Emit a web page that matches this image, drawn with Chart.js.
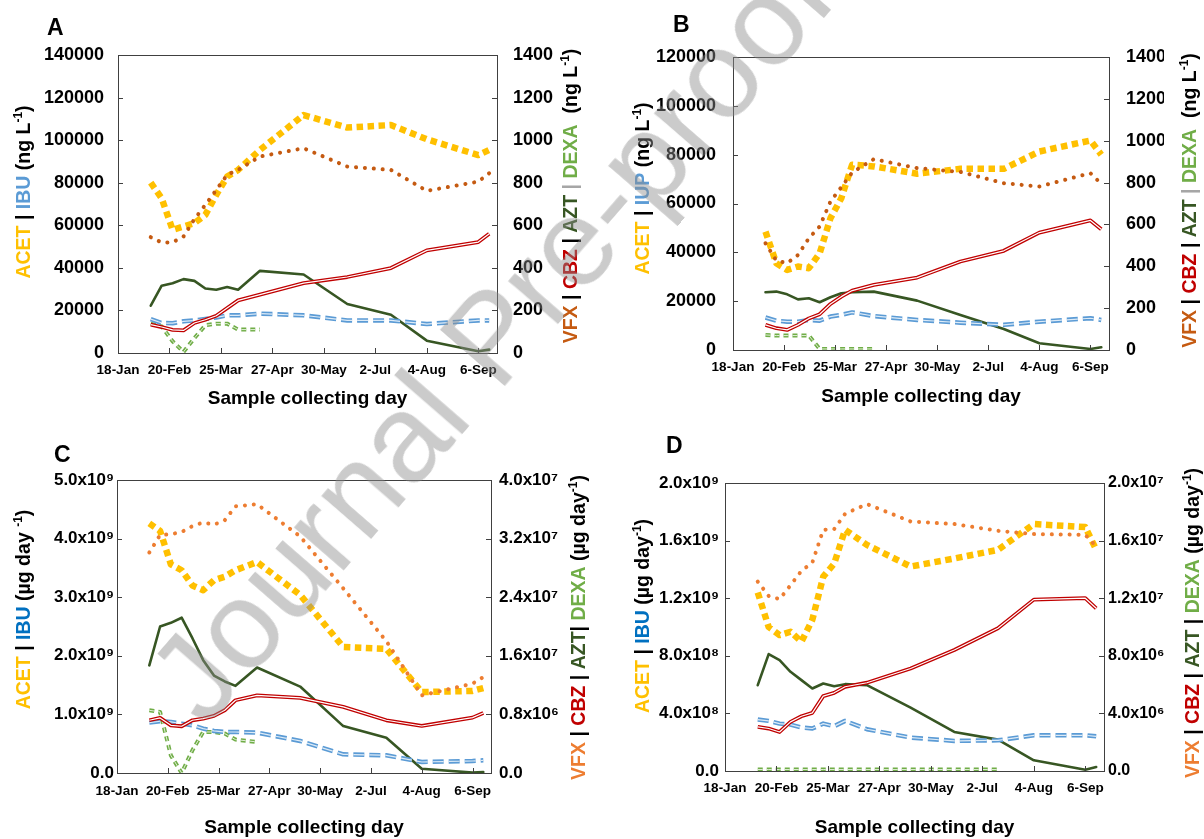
<!DOCTYPE html>
<html>
<head>
<meta charset="utf-8">
<script src="https://cdn.jsdelivr.net/npm/chart.js@4.4.0/dist/chart.umd.min.js"></script>
<style>
  body { margin: 0; background: #fff; width: 1204px; height: 839px; overflow: hidden; position: relative; }
  canvas { position: absolute; }
  #wm {
    position: absolute; left: 173px; top: 638px; height: 125px; line-height: 125px;
    font-size: 125px; font-family: 'Liberation Sans', Arial, sans-serif;
    color: rgba(140, 140, 140, 0.45); white-space: nowrap;
    transform-origin: 0 50%; transform: rotate(-49deg); pointer-events: none;
  }
</style>
</head>
<body>
<canvas id="cA" width="600" height="420" style="left:0;top:0"></canvas>
<canvas id="cB" width="604" height="420" style="left:600px;top:0"></canvas>
<canvas id="cC" width="600" height="419" style="left:0;top:420px"></canvas>
<canvas id="cD" width="604" height="419" style="left:600px;top:420px"></canvas>
<div id="wm">Journal Pre-proof</div>
<script>
// days counted from 18-Jan
const sampleDays = [21, 28, 35, 42, 49, 56, 63, 70, 77, 91, 119, 147, 175, 198, 231, 238];
const dateLabels = ['18-Jan', '20-Feb', '25-Mar', '27-Apr', '30-May', '2-Jul', '4-Aug', '6-Sep'];

// panel A (ng/L)
const acetA = [80000, 72700, 57900, 59400, 61000, 64900, 74300, 82900, 86000, 95400, 111800, 105900, 107100, 100400, 93000, 95400];
const ibuA  = [15900, 14100, 14000, 14900, 15300, 16000, 16700, 17700, 17700, 18500, 17700, 15300, 15300, 13600, 15300, 15300];
const vfxA  = [544, 519, 520, 547, 629, 696, 766, 837, 860, 923, 962, 876, 860, 762, 805, 845];
const cbzA  = [133, 122, 109, 106, 141, 156, 175, 211, 247, 274, 328, 357, 399, 482, 521, 560];
const aztA  = [222, 316, 328, 347, 339, 303, 297, 310, 297, 386, 369, 230, 180, 58, 8, 16];
const dexaA = [138, 125, 55, 5, 70, 130, 138, 138, 110, 110, null, null, null, null, null, null];

// panel B (ng/L)
const acetB = [48500, 35500, 32800, 34200, 33500, 39600, 54000, 62200, 75900, 75200, 72200, 74200, 74200, 81300, 85800, 80000];
const ibuB  = [13300, 12000, 11600, 11600, 12300, 12000, 13700, 14400, 15400, 13900, 12300, 11200, 10300, 11600, 13000, 12300];
const vfxB  = [510, 427, 415, 454, 534, 590, 710, 778, 848, 912, 869, 851, 797, 781, 845, 794];
const cbzB  = [120, 104, 96, 120, 151, 171, 220, 255, 284, 311, 346, 423, 474, 561, 619, 577];
const aztB  = [276, 279, 266, 242, 247, 228, 252, 271, 276, 279, 236, 167, 100, 32, 5, 13];
const dexaB = [72, 69, 69, 69, 69, 5, 5, 5, 5, 5, null, null, null, null, null, null];

// panel C (ug/day)
const acetC = [4.26e9, 4.13e9, 3.56e9, 3.46e9, 3.2e9, 3.12e9, 3.29e9, 3.35e9, 3.46e9, 3.6e9, 3.04e9, 2.15e9, 2.12e9, 1.38e9, 1.4e9, 1.45e9];
const ibuC  = [8.6e8, 8.83e8, 8.71e8, 8.43e8, 8.14e8, 7.57e8, 7.18e8, 7.0e8, 7.0e8, 6.89e8, 5.47e8, 3.19e8, 3.02e8, 1.88e8, 2.05e8, 2.16e8];
const vfxC  = [3.01e7, 3.25e7, 3.26e7, 3.29e7, 3.37e7, 3.42e7, 3.39e7, 3.45e7, 3.64e7, 3.67e7, 3.23e7, 2.52e7, 1.8e7, 1.06e7, 1.22e7, 1.31e7];
const cbzC  = [7.2e6, 7.52e6, 6.51e6, 6.38e6, 7.2e6, 7.43e6, 7.79e6, 8.56e6, 9.93e6, 1.06e7, 1.025e7, 9.02e6, 7.2e6, 6.42e6, 7.56e6, 8.2e6];
const aztC  = [1.47e7, 2.0e7, 2.05e7, 2.12e7, 1.84e7, 1.54e7, 1.33e7, 1.25e7, 1.19e7, 1.44e7, 1.18e7, 6.4e6, 4.8e6, 5.9e5, 5e4, 1.4e5];
const dexaC = [8.56e6, 8.34e6, 2.4e6, 0, 3.1e6, 5.6e6, 5.6e6, 5.38e6, 4.56e6, 4.24e6, null, null, null, null, null, null];

// panel D (ug/day)
const acetD = [1.24e9, 1.0e9, 9.44e8, 9.67e8, 8.98e8, 1.05e9, 1.35e9, 1.44e9, 1.675e9, 1.57e9, 1.42e9, 1.476e9, 1.536e9, 1.715e9, 1.694e9, 1.536e9];
const ibuD  = [3.57e8, 3.48e8, 3.29e8, 3.22e8, 3.02e8, 2.95e8, 3.29e8, 3.11e8, 3.48e8, 2.9e8, 2.32e8, 2.09e8, 2.13e8, 2.48e8, 2.48e8, 2.41e8];
const vfxD  = [1.315e7, 1.216e7, 1.193e7, 1.29e7, 1.39e7, 1.447e7, 1.675e7, 1.68e7, 1.786e7, 1.854e7, 1.733e7, 1.715e7, 1.668e7, 1.645e7, 1.64e7, 1.559e7];
const cbzD  = [3.06e6, 2.95e6, 2.71e6, 3.41e6, 3.8e6, 4.04e6, 5.2e6, 5.43e6, 5.85e6, 6.13e6, 7.12e6, 8.4e6, 9.91e6, 1.19e7, 1.2e7, 1.13e7];
const aztD  = [5.96e6, 8.12e6, 7.7e6, 6.89e6, 6.31e6, 5.73e6, 6.08e6, 5.89e6, 6.03e6, 5.96e6, 4.4e6, 2.71e6, 2.18e6, 7.4e5, 9e4, 2.8e5];
const dexaD = [1e5, 1e5, 1e5, 1e5, 1e5, 1e5, 1e5, 1e5, 1e5, 1e5, 1e5, 1e5, 1e5, null, null, null];

// tick labels for the scientific axes
const leftTicksC  = ['0.0', '1.0x10⁹', '2.0x10⁹', '3.0x10⁹', '4.0x10⁹', '5.0x10⁹'];
const rightTicksC = ['0.0', '0.8x10⁶', '1.6x10⁷', '2.4x10⁷', '3.2x10⁷', '4.0x10⁷'];
const leftTicksD  = ['0.0', '4.0x10⁸', '8.0x10⁸', '1.2x10⁹', '1.6x10⁹', '2.0x10⁹'];
const rightTicksD = ['0.0', '4.0x10⁶', '8.0x10⁶', '1.2x10⁷', '1.6x10⁷', '2.0x10⁷'];

const FONT = "'Liberation Sans', Arial, sans-serif";
const YELLOW = '#FFC000', BLUE = '#5B9BD5', RED = '#C00000', DKGREEN = '#375623', LTGREEN = '#70AD47';
const TITLE_SIZE = 19.5;

function seg(t, c, sup) { return { t, c, sup: !!sup }; }

function pts(arr) {
  return sampleDays.map((d, i) => ({ x: d, y: arr[i] }));
}

function line(arr, axis, color, width, dash, cap, order) {
  return {
    data: pts(arr), yAxisID: axis, borderColor: color, borderWidth: width,
    borderDash: dash, borderCapStyle: cap, borderJoinStyle: 'round',
    pointRadius: 0, fill: false, tension: 0, spanGaps: false, order
  };
}

function drawRotated(ctx, segs, cx, cy, size) {
  const fm = 'bold ' + size + 'px ' + FONT;
  const fs = 'bold ' + Math.round(size * 0.62) + 'px ' + FONT;
  ctx.save();
  ctx.translate(cx, cy);
  ctx.rotate(-Math.PI / 2);
  ctx.textBaseline = 'middle';
  ctx.textAlign = 'left';
  let total = 0;
  segs.forEach(s => { ctx.font = s.sup ? fs : fm; total += ctx.measureText(s.t).width; });
  let x = -total / 2;
  segs.forEach(s => {
    ctx.font = s.sup ? fs : fm;
    ctx.fillStyle = s.c;
    ctx.fillText(s.t, x, s.sup ? -size * 0.33 : 0);
    x += ctx.measureText(s.t).width;
  });
  ctx.restore();
}

function buildChart(id, p) {
  const s = p.series;
  const datasets = [
    line(s.cbz, 'y1', '#FFFFFF', 1.2, [], 'butt', 1),
    line(s.cbz, 'y1', RED, 3.8, [], 'butt', 2),
    line(s.ibu, 'y', '#DDEBF7', 1.2, [11, 5], 'butt', 3),
    line(s.ibu, 'y', BLUE, 4.5, [11, 5], 'butt', 4),
    line(s.dexa, 'y1', '#E2F0D9', 1, [5, 4], 'butt', 5),
    line(s.dexa, 'y1', LTGREEN, 4, [5, 4], 'butt', 6),
    line(s.azt, 'y1', DKGREEN, 2.6, [], 'round', 7),
    line(s.vfx, 'y1', p.vfxColor, 4, [0.1, 8.8], 'round', 8),
    line(s.acet, 'y', YELLOW, 6.5, [6.5, 4.5], 'butt', 9)
  ];

  const tickFont = { family: FONT, size: p.tickSize, weight: 'bold' };

  const deco = {
    id: 'deco',
    afterDatasetsDraw(chart) {
      const { ctx, chartArea: a, scales } = chart;
      ctx.save();
      ctx.strokeStyle = '#404040';
      ctx.lineWidth = 1;
      ctx.beginPath();
      scales.y.ticks.forEach(t => {
        const py = Math.round(scales.y.getPixelForValue(t.value)) + 0.5;
        ctx.moveTo(a.left, py); ctx.lineTo(a.left + 5, py);
      });
      scales.y1.ticks.forEach(t => {
        const py = Math.round(scales.y1.getPixelForValue(t.value)) + 0.5;
        ctx.moveTo(a.right - 5, py); ctx.lineTo(a.right, py);
      });
      scales.x.ticks.forEach(t => {
        const px = Math.round(scales.x.getPixelForValue(t.value)) + 0.5;
        ctx.moveTo(px, a.bottom); ctx.lineTo(px, a.bottom - 5);
      });
      ctx.stroke();
      ctx.strokeRect(Math.round(a.left) + 0.5, Math.round(a.top) + 0.5, Math.round(a.width), Math.round(a.height));
      ctx.restore();
    },
    afterDraw(chart) {
      const { ctx, chartArea: a } = chart;
      ctx.save();
      ctx.fillStyle = '#000';
      ctx.font = 'bold 23px ' + FONT;
      ctx.textBaseline = 'middle';
      ctx.textAlign = 'left';
      ctx.fillText(p.letter, p.letterX, p.letterY);
      ctx.restore();
      const mid = (a.top + a.bottom) / 2;
      drawRotated(ctx, p.leftTitle, p.leftTitleX, mid + p.leftTitleDy, TITLE_SIZE);
      drawRotated(ctx, p.rightTitle, p.rightTitleX, mid + p.rightTitleDy, TITLE_SIZE);
    }
  };

  return new Chart(document.getElementById(id), {
    type: 'line',
    data: { datasets },
    options: {
      responsive: false,
      animation: false,
      events: [],
      layout: { padding: p.pad },
      plugins: { legend: { display: false }, tooltip: { enabled: false } },
      scales: {
        x: {
          type: 'linear', min: 0, max: 243,
          afterFit: sc => { sc.height = p.xH; },
          grid: { display: false, drawTicks: false }, border: { display: false },
          ticks: {
            stepSize: 33, includeBounds: false, autoSkip: false, maxRotation: 0,
            padding: p.xPad, color: '#000',
            font: { family: FONT, size: 13.5, weight: 'bold' },
            callback: v => dateLabels[Math.round(v / 33)]
          },
          title: {
            display: true, text: 'Sample collecting day', color: '#000', padding: 0,
            font: { family: FONT, size: 19, weight: 'bold' }
          }
        },
        y: {
          position: 'left', min: 0, max: p.yMax,
          afterFit: sc => { sc.width = p.yW; },
          grid: { display: false, drawTicks: false }, border: { display: false },
          ticks: {
            stepSize: p.yStep, padding: p.yPad, color: '#000', font: tickFont,
            callback: v => p.yLabels ? p.yLabels[Math.round(v / p.yStep)] : String(v)
          }
        },
        y1: {
          position: 'right', min: 0, max: p.y1Max,
          afterFit: sc => { sc.width = p.y1W; },
          grid: { display: false, drawTicks: false }, border: { display: false },
          ticks: {
            stepSize: p.y1Step, padding: p.y1Pad, color: '#000',
            font: { family: FONT, size: p.y1TickSize || p.tickSize, weight: 'bold' },
            callback: v => p.y1Labels ? p.y1Labels[Math.round(v / p.y1Step)] : String(v)
          }
        }
      }
    },
    plugins: [deco]
  });
}

const ngTitleL = (b) => [seg('ACET', YELLOW), seg(' | ', '#000'), seg(b, BLUE), seg(' (ng L', '#000'), seg('-1', '#000', true), seg(')', '#000')];
const ngTitleR = (vc) => [seg('VFX', vc), seg(' | ', '#000'), seg('CBZ', RED), seg(' | ', '#000'), seg('AZT', DKGREEN), seg(' | ', '#A6A6A6'), seg('DEXA', LTGREEN), seg('  (ng L', '#000'), seg('-1', '#000', true), seg(')', '#000')];

buildChart('cA', {
  letter: 'A', letterX: 47, letterY: 29,
  pad: { left: 40, right: 40, top: 55, bottom: 10 },
  yW: 78, y1W: 63, xH: 57, yPad: 14, y1Pad: 16, xPad: 9, tickSize: 18,
  yMax: 140000, yStep: 20000, y1Max: 1400, y1Step: 200,
  leftTitle: ngTitleL('IBU'), leftTitleX: 25, leftTitleDy: -12,
  rightTitle: ngTitleR('#C55A11'), rightTitleX: 572, rightTitleDy: -8,
  vfxColor: '#C55A11',
  series: { acet: acetA, ibu: ibuA, vfx: vfxA, cbz: cbzA, azt: aztA, dexa: dexaA }
});

buildChart('cB', {
  letter: 'B', letterX: 73, letterY: 26,
  pad: { left: 40, right: 40, top: 57, bottom: 12 },
  yW: 93, y1W: 55, xH: 58, yPad: 17, y1Pad: 17, xPad: 9, tickSize: 18,
  yMax: 120000, yStep: 20000, y1Max: 1400, y1Step: 200,
  leftTitle: ngTitleL('IUP'), leftTitleX: 44, leftTitleDy: -15,
  rightTitle: ngTitleR('#C55A11'), rightTitleX: 591, rightTitleDy: -3,
  vfxColor: '#C55A11',
  series: { acet: acetB, ibu: ibuB, vfx: vfxB, cbz: cbzB, azt: aztB, dexa: dexaB }
});

buildChart('cC', {
  letter: 'C', letterX: 54, letterY: 36,
  pad: { left: 40, right: 40, top: 60, bottom: 0 },
  yW: 77, y1W: 69, xH: 66, yPad: 3, y1Pad: 8, xPad: 10, tickSize: 17,
  yMax: 5e9, yStep: 1e9, y1Max: 4e7, y1Step: 8e6,
  yLabels: leftTicksC, y1Labels: rightTicksC,
  leftTitle: [seg('ACET', YELLOW), seg(' | ', '#000'), seg('IBU', '#0070C0'), seg(' (µg day ', '#000'), seg('-1', '#000', true), seg(')', '#000')],
  leftTitleX: 25, leftTitleDy: -17,
  rightTitle: [seg('VFX', '#ED7D31'), seg(' | ', '#000'), seg('CBZ', RED), seg(' | ', '#000'), seg('AZT', DKGREEN), seg('| ', '#000'), seg('DEXA', LTGREEN), seg(' (µg day', '#000'), seg('-1', '#000', true), seg(')', '#000')],
  rightTitleX: 580, rightTitleDy: 1,
  vfxColor: '#ED7D31',
  series: { acet: acetC, ibu: ibuC, vfx: vfxC, cbz: cbzC, azt: aztC, dexa: dexaC }
});

buildChart('cD', {
  letter: 'D', letterX: 66, letterY: 27,
  pad: { left: 40, right: 38, top: 63, bottom: 0 },
  yW: 85, y1W: 62, xH: 68, yPad: 6, y1Pad: 4, xPad: 9, tickSize: 17, y1TickSize: 16,
  yMax: 2e9, yStep: 4e8, y1Max: 2e7, y1Step: 4e6,
  yLabels: leftTicksD, y1Labels: rightTicksD,
  leftTitle: [seg('ACET', YELLOW), seg(' | ', '#000'), seg('IBU', '#0070C0'), seg(' (µg day', '#000'), seg('-1', '#000', true), seg(')', '#000')],
  leftTitleX: 44, leftTitleDy: -11,
  rightTitle: [seg('VFX', '#ED7D31'), seg(' | ', '#000'), seg('CBZ', RED), seg(' | ', '#000'), seg('AZT', DKGREEN), seg(' | ', '#000'), seg('DEXA', LTGREEN), seg(' (µg day', '#000'), seg('-1', '#000', true), seg(')', '#000')],
  rightTitleX: 594, rightTitleDy: -4,
  vfxColor: '#ED7D31',
  series: { acet: acetD, ibu: ibuD, vfx: vfxD, cbz: cbzD, azt: aztD, dexa: dexaD }
});
</script>
</body>
</html>
